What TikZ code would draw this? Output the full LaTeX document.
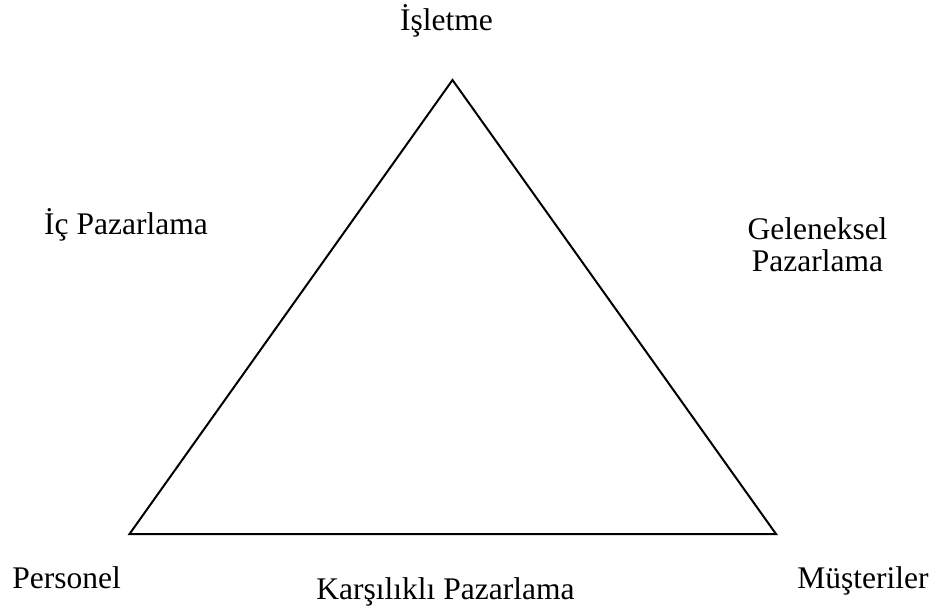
\documentclass[tikz,border=0pt]{standalone}
\usepackage{fontspec}
\setmainfont{Liberation Serif}
\begin{document}
\begin{tikzpicture}[x=1pt,y=-1pt,
  lbl/.style={inner sep=0pt,anchor=base,font=\fontsize{31.5}{32.5}\selectfont},
  edge/.style={line width=2pt,line join=miter}]
\useasboundingbox (0,0) rectangle (941,610);
\coordinate (top) at (452.5,80);
\coordinate (bl) at (129.5,534);
\coordinate (br) at (776,534);
\draw[edge] (top) -- (bl) -- (br) -- cycle;
\node[lbl] (isletme) at (446.5,31) {İşletme};
\node[lbl] (ic) at (126,234.3) {İç Pazarlama};
\node[lbl] (gel) at (817.5,239.3) {Geleneksel};
\node[lbl] (gelp) at (817.5,271.7) {Pazarlama};
\node[lbl] (pers) at (66.7,588.5) {Personel};
\node[lbl] (kars) at (445.5,599.3) {Karşılıklı Pazarlama};
\node[lbl] (must) at (863,588.5) {Müşteriler};
\end{tikzpicture}
\end{document}
